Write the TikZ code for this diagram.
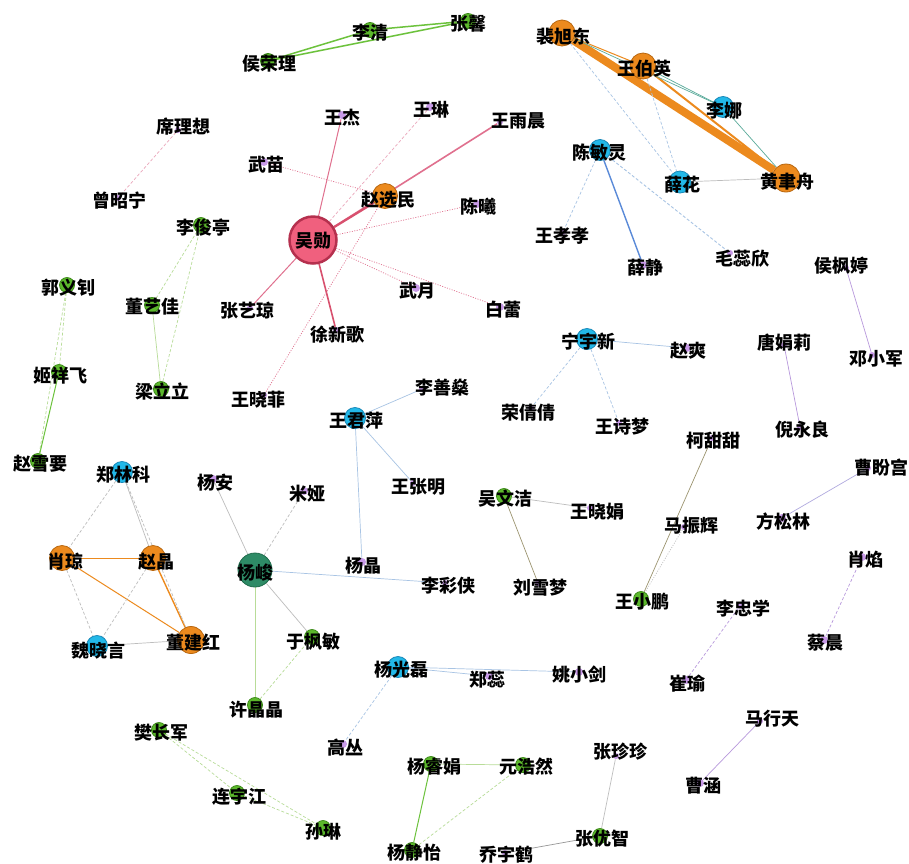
\documentclass[tikz,border=0pt]{standalone}
\usepackage{fontspec}
\newfontfamily\cjk{Noto Sans CJK SC}
\usetikzlibrary{backgrounds}
\definecolor{pkF}{HTML}{F0607E}\definecolor{pkD}{HTML}{B5304E}
\definecolor{orF}{HTML}{EC8A1E}\definecolor{orD}{HTML}{B8660E}
\definecolor{cyF}{HTML}{22B8E8}\definecolor{cyD}{HTML}{1888B8}
\definecolor{gnF}{HTML}{5CB82C}\definecolor{gnD}{HTML}{3C8A18}
\definecolor{puF}{HTML}{C89AE8}
\definecolor{tlF}{HTML}{2E8B66}\definecolor{tlD}{HTML}{1F6B4B}
\definecolor{eGreen}{HTML}{6CC23C}\definecolor{eGreenL}{HTML}{B8DC98}
\definecolor{ePink}{HTML}{E0708E}\definecolor{ePinkL}{HTML}{EBA8BC}
\definecolor{eRed}{HTML}{D8506E}\definecolor{eOrange}{HTML}{EC8A1E}
\definecolor{eTeal}{HTML}{5AAA9A}\definecolor{eBlue}{HTML}{A8C4E4}
\definecolor{eBlueD}{HTML}{5A8AD8}\definecolor{eGray}{HTML}{BDBDBD}
\definecolor{ePurple}{HTML}{B898DC}\definecolor{eOlive}{HTML}{9C9470}
\tikzset{
  nd/.style={circle,inner sep=0pt,line width=0.8pt},
  pk/.style={nd,fill=pkF,draw=pkD,line width=2.5pt,minimum size=#1},pk/.default=47pt,
  or/.style={nd,fill=orF,draw=orD,minimum size=#1},or/.default=25pt,
  cyn/.style={nd,fill=cyF,draw=cyD,minimum size=#1},cyn/.default=21pt,
  gn/.style={nd,fill=gnF,draw=gnD,minimum size=#1},gn/.default=15pt,
  pu/.style={nd,fill=puF,minimum size=#1},pu/.default=8pt,
  tl/.style={nd,fill=tlF,draw=tlD,minimum size=#1},tl/.default=34pt,
  lab/.style={font={\cjk\bfseries\fontsize{18}{18}\selectfont},inner sep=0pt,text=black},
  ln/.style={line width=0.7pt},
  dsh/.style={dash pattern=on 3pt off 2pt},
  dot/.style={dash pattern=on 1pt off 1.5pt},
}
\newcommand{\pers}[7]{\node[#2] (#1) at (#3,#4) {}; \node[lab] (#1t) at (#5,#6) {#7};}
\newcommand{\ed}[3]{\draw[ln,#1] (#2) -- (#3);}
\begin{document}
\begin{tikzpicture}[x=1pt,y=-1pt]
\useasboundingbox (0,0) rectangle (909,863);
% top-left cluster
\pers{hrl}{gn}{268}{61}{269}{64}{侯荣理}
\pers{lq}{gn}{370}{30}{370}{33}{李清}
\pers{zx}{gn}{468}{21}{468}{24}{张馨}
\pers{xlx}{pu=6pt}{178}{130}{183}{127}{席理想}
\pers{zzn}{pu=6pt}{118}{198}{119}{201}{曾昭宁}
% wu xun star
\pers{wj}{pu}{342}{115}{342}{118}{王杰}
\pers{wl}{pu}{430}{107}{431}{110}{王琳}
\pers{wyc}{pu=6pt}{500}{122}{518}{121}{王雨晨}
\pers{wm}{pu}{264}{162}{266}{165}{武苗}
\pers{zxm}{or}{385}{196}{388}{200}{赵选民}
\pers{cx}{pu}{477}{204}{478}{207}{陈曦}
\pers{wx}{pk}{313}{240}{313}{241}{吴勋}
\pers{zyq}{pu=6pt}{250}{308}{247}{311}{张艺琼}
\pers{wy}{pu}{416}{288}{417}{291}{武月}
\pers{bl}{pu}{500}{307}{503}{310}{白蕾}
\pers{xxg}{pu=6pt}{336}{330}{337}{335}{徐新歌}
\pers{wxf}{pu=6pt}{264}{395}{258}{400}{王晓菲}
% green left
\pers{ljt}{gn}{201}{225}{203}{228}{李俊亭}
\pers{gyz}{gn}{67}{285}{68}{288}{郭义钊}
\pers{dyj}{gn}{152}{305}{152}{307}{董艺佳}
\pers{jxf}{gn}{59}{372}{60}{376}{姬祥飞}
\pers{lll}{gn}{161}{389}{162}{392}{梁立立}
\pers{zxy}{gn}{38}{461}{40}{464}{赵雪要}
% top-right
\pers{pxd}{or=26pt}{562}{33}{563}{37}{裴旭东}
\pers{wby}{or=26pt}{643}{66}{644}{69}{王伯英}
\pers{lna}{cyn}{723}{107}{724}{111}{李娜}
\pers{hyz}{or=28pt}{786}{178}{787}{182}{黄聿舟}
\pers{xh}{cyn=22pt}{680}{182}{682}{185}{薛花}
\pers{cml}{cyn}{600}{150}{599}{153}{陈敏灵}
\pers{wxx}{pu=6pt}{563}{232}{562}{236}{王孝孝}
\pers{xj}{pu}{643}{265}{645}{268}{薛静}
\pers{mrx}{pu=6pt}{730}{253}{742}{259}{毛蕊欣}
\pers{hft}{pu=6pt}{846}{268}{841}{266}{侯枫婷}
\pers{dxj}{pu=6pt}{872}{355}{876}{359}{邓小军}
\pers{tjl}{pu=6pt}{784}{345}{784}{343}{唐娟莉}
\pers{nyl}{pu=6pt}{800}{427}{802}{430}{倪永良}
% middle right
\pers{nyx}{cyn}{587}{339}{588}{342}{宁宇新}
\pers{zs}{pu}{687}{348}{688}{351}{赵爽}
\pers{rqq}{pu=6pt}{531}{408}{528}{413}{荣倩倩}
\pers{wsm}{pu=6pt}{619}{423}{622}{427}{王诗梦}
\pers{ktt}{pu=6pt}{712}{438}{713}{441}{柯甜甜}
\pers{cpg}{pu=6pt}{868}{468}{881}{468}{曹盼宫}
\pers{wwj}{gn}{504}{496}{505}{499}{吴文洁}
\pers{wxj}{pu=6pt}{590}{508}{597}{512}{王晓娟}
\pers{mzh}{pu=6pt}{684}{527}{691}{526}{马振辉}
\pers{fsl}{pu}{782}{518}{783}{522}{方松林}
\pers{lxm}{pu=6pt}{538}{583}{540}{588}{刘雪梦}
\pers{wxp}{gn}{641}{599}{642}{602}{王小鹏}
\pers{lzx}{pu=6pt}{740}{606}{743}{609}{李忠学}
\pers{xiy}{pu}{862}{557}{865}{560}{肖焰}
\pers{cch}{pu}{824}{640}{825}{643}{蔡晨}
\pers{cuy}{pu}{686}{680}{687}{684}{崔瑜}
\pers{mxt}{pu=6pt}{760}{721}{772}{719}{马行天}
\pers{cha}{pu}{700}{783}{703}{786}{曹涵}
% middle
\pers{lss}{pu=6pt}{422}{389}{442}{388}{李善燊}
\pers{wjp}{cyn}{355}{418}{356}{421}{王君萍}
\pers{wzm}{pu=6pt}{413}{483}{418}{487}{王张明}
\pers{yjing}{pu}{362}{562}{363}{566}{杨晶}
\pers{lcx}{pu=6pt}{445}{583}{448}{586}{李彩侠}
% left bottom
\pers{zlk}{cyn}{122}{472}{123}{475}{郑林科}
\pers{xq}{or}{62}{558}{65}{562}{肖琼}
\pers{zj}{or}{153}{558}{156}{562}{赵晶}
\pers{wxy}{cyn}{97}{646}{98}{651}{魏晓言}
\pers{djh}{or=27pt}{191}{640}{193}{643}{董建红}
\pers{yja}{pu}{213}{479}{215}{483}{杨安}
\pers{my}{pu}{304}{491}{307}{494}{米娅}
\pers{yjun}{tl}{255}{570}{255}{573}{杨峻}
\pers{yfm}{gn}{312}{637}{313}{642}{于枫敏}
\pers{xjj}{gn}{255}{705}{256}{710}{许晶晶}
\pers{ygl}{cyn}{398}{667}{401}{670}{杨光磊}
\pers{zr}{pu}{489}{676}{487}{680}{郑蕊}
\pers{yxj}{pu}{579}{672}{579}{675}{姚小剑}
\pers{gc}{pu}{343}{744}{345}{748}{高丛}
\pers{fcj}{gn}{159}{730}{161}{733}{樊长军}
\pers{lyj}{gn}{237}{793}{239}{797}{连宇江}
\pers{sl}{gn}{323}{828}{323}{832}{孙琳}
% bottom
\pers{yrj}{gn}{431}{764}{434}{767}{杨睿娟}
\pers{yhr}{gn}{523}{765}{526}{767}{元浩然}
\pers{yjy}{gn}{412}{850}{414}{853}{杨静怡}
\pers{zzz}{pu=6pt}{616}{756}{620}{752}{张珍珍}
\pers{qyh}{pu=6pt}{505}{853}{506}{855}{乔宇鹤}
\pers{zyz}{gn}{600}{836}{602}{839}{张优智}
\begin{scope}[on background layer]
\fill[white] (0,0) rectangle (909,863);
% top green triangle
\ed{eGreen,line width=1.5pt}{hrl}{lq}
\ed{eGreen,line width=1.5pt}{hrl}{zx}
\ed{eGreen,line width=1.5pt}{lq}{zx}
\ed{ePinkL,dsh}{xlx}{zzn}
% wu xun
\ed{ePink,line width=1pt}{wx}{wj}
\ed{ePinkL,dsh}{wx}{wl}
\ed{ePink,line width=1.6pt}{wx}{wyc}
\ed{eRed,line width=2.2pt}{wx}{zxm}
\ed{ePink,dot}{wm}{zxm}
\ed{ePink,dot}{wx}{cx}
\ed{ePink,dot}{wx}{wy}
\ed{ePink,dot}{wx}{bl}
\ed{ePink,line width=1pt}{wx}{zyq}
\ed{eRed,line width=1.6pt}{wx}{xxg}
\ed{ePink,dot}{zxm}{wxf}
% green left
\ed{eGreenL,dsh}{ljt}{dyj}
\ed{eGreenL,dsh}{ljt}{lll}
\ed{eGreenL}{dyj}{lll}
\ed{eGreenL,dsh}{gyz}{jxf}
\ed{eGreenL,dsh}{gyz}{zxy}
\ed{eGreen,line width=1pt}{jxf}{zxy}
% top right
\ed{eOrange,line width=8pt}{pxd}{hyz}
\ed{eOrange,line width=1pt}{pxd}{wby}
\ed{eOrange,line width=2pt}{wby}{hyz}
\ed{eTeal}{wby}{lna}
\ed{eTeal}{pxd}{lna}
\ed{eTeal}{lna}{hyz}
\ed{eBlue,dsh}{pxd}{xh}
\ed{eBlue,dsh}{wby}{xh}
\ed{eGray}{xh}{hyz}
\ed{eBlue,dsh}{cml}{wxx}
\ed{eBlueD,line width=1.4pt}{cml}{xj}
\ed{eBlue,dsh,line width=0.9pt}{cml}{mrx}
\ed{ePurple}{hft}{dxj}
\ed{ePurple}{tjl}{nyl}
% middle right
\ed{eBlue}{nyx}{zs}
\ed{eBlue,dsh}{nyx}{rqq}
\ed{eBlue,dsh}{nyx}{wsm}
\ed{eOlive}{ktt}{wxp}
\ed{eGray,dot}{mzh}{wxp}
\ed{ePurple!60!eBlue}{cpg}{fsl}
\ed{eGray}{wwj}{wxj}
\ed{eOlive}{wwj}{lxm}
\ed{ePurple,dsh}{xiy}{cch}
\ed{ePurple,dsh}{lzx}{cuy}
\ed{ePurple}{mxt}{cha}
% middle
\ed{eBlue}{wjp}{lss}
\ed{eBlue}{wjp}{wzm}
\ed{eBlue}{wjp}{yjing}
\ed{eGray}{yjun}{yja}
\ed{eGray,dsh}{yjun}{my}
\ed{eBlue}{yjun}{lcx}
\ed{eGray}{yjun}{yfm}
\ed{eGreenL,line width=1pt}{yjun}{xjj}
\ed{eGreenL,dsh}{yfm}{xjj}
% left bottom
\ed{eOrange,line width=1pt}{xq}{zj}
\ed{eOrange,line width=1pt}{xq}{djh}
\ed{eOrange,line width=1.4pt}{zj}{djh}
\ed{eGray,dsh}{zlk}{xq}
\ed{eGray}{zlk}{zj}
\ed{eGray,dsh}{zlk}{djh}
\ed{eGray,dsh}{xq}{wxy}
\ed{eGray,dsh}{zj}{wxy}
\ed{eGray}{wxy}{djh}
\ed{eBlue}{ygl}{zr}
\ed{eBlue}{ygl}{yxj}
\ed{eBlue,dsh}{ygl}{gc}
\ed{eGreenL,dsh}{fcj}{lyj}
\ed{eGreenL,dsh}{fcj}{sl}
\ed{eGreenL,dsh}{lyj}{sl}
% bottom
\ed{eGreenL}{yrj}{yhr}
\ed{eGreen,line width=1pt}{yrj}{yjy}
\ed{eGreenL,dsh}{yhr}{yjy}
\ed{eGray}{zzz}{zyz}
\ed{eGray!80!black}{qyh}{zyz}
\end{scope}
\end{tikzpicture}
\end{document}
